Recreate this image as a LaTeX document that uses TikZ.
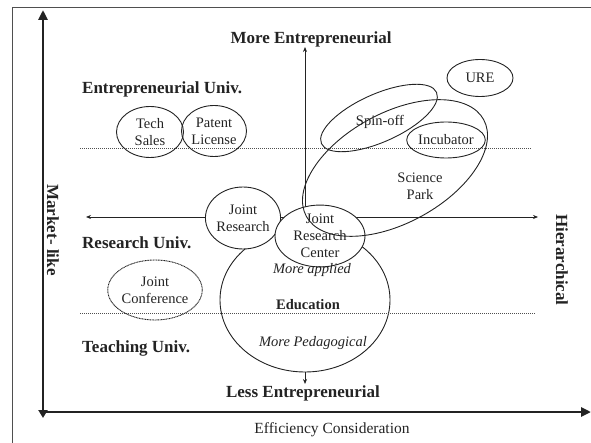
\documentclass[tikz,border=0pt]{standalone}
\usepackage{fontspec}
\setmainfont{Liberation Serif}
\usetikzlibrary{shapes.geometric,arrows.meta}
\definecolor{ink}{RGB}{35,35,35}
\begin{document}
\begin{tikzpicture}[x=1pt,y=-1pt,
  bub/.style={draw=ink, ellipse, inner sep=0pt, align=center, text=ink,
     font=\fontsize{14.5}{17}\selectfont, line width=0.9pt},
  ring/.style={draw=ink, ellipse, inner sep=0pt, line width=0.9pt},
  lbl/.style={text=ink, align=center, inner sep=0pt, font=\fontsize{14.5}{17}\selectfont},
  head/.style={text=ink, inner sep=0pt, font=\bfseries\fontsize{17}{19}\selectfont},
  dotline/.style={draw=ink!80, line width=0.8pt, dash pattern=on 1pt off 1pt},
  thinaxis/.style={draw=ink, line width=0.7pt, {Stealth[length=5pt,width=4pt]}-{Stealth[length=5pt,width=4pt]}},
  thickaxis/.style={draw=ink, line width=2.8pt}
]
\useasboundingbox (0,0) rectangle (591,443);
% frame
\coordinate (f1) at (12,443);
\coordinate (f2) at (12,8);
\coordinate (f3) at (591,8);
\draw[ink!80, line width=1pt] (f1) -- (f2) -- (f3);
% thick axes
\coordinate (o) at (43,412);
\coordinate (vt) at (43,10);
\coordinate (vb) at (43,418);
\coordinate (hr) at (591,412);
\draw[thickaxis, {Triangle[length=8pt,width=9pt]}-{Triangle[length=10pt,width=9pt]}] (vb) -- (vt);
\draw[thickaxis, -{Triangle[length=10pt,width=9pt]}] (o) -- (hr);
% thin axes
\coordinate (ht) at (305,47);
\coordinate (hb) at (305,384);
\coordinate (hl) at (86,217);
\coordinate (hrr) at (538,217);
\draw[thinaxis] (hb) -- (ht);
\draw[thinaxis] (hl) -- (hrr);
% dotted lines
\coordinate (d1l) at (80,148);
\coordinate (d1r) at (532,148);
\draw[dotline] (d1l) -- (d1r);
% education circle
\node[ring, fill=white, minimum width=170pt, minimum height=144pt] (edu) at (305,300) {};
\coordinate (d2l) at (80,313);
\coordinate (d2r) at (536,313);
\draw[dotline] (d2l) -- (d2r);
% joint research, joint research center
\node[bub, fill=white, minimum width=74pt, minimum height=62pt] (jr) at (243,218) {Joint\\Research};
\node[bub, fill=white, minimum width=90pt, minimum height=52pt] (jrc) at (320,236) {Joint\\Research\\Center};
% science park, spin-off, incubator, URE
\node[ring, minimum width=202pt, minimum height=110pt, rotate=28.6] (sp) at (395,168) {};
\node[lbl] (spt) at (420,186) {Science\\Park};
\node[ring, minimum width=126pt, minimum height=48pt, rotate=24] (so) at (379,118) {};
\node[lbl] (sot) at (380,122) {Spin-off};
\node[bub, minimum width=76pt, minimum height=36pt] (inc) at (446,140) {Incubator};
\node[bub, minimum width=66pt, minimum height=37pt] (ure) at (480,78) {URE};
% left ellipses
\node[bub, minimum width=67pt, minimum height=51pt] (ts) at (150,132) {Tech\\Sales};
\node[bub, minimum width=65pt, minimum height=51pt] (pl) at (214,131) {Patent\\License};
\node[bub, dash pattern=on 1pt off 0.6pt, minimum width=74pt, minimum height=60pt] (jc) at (155,290) {Joint\\Conference};
% education texts
\node[lbl, font=\itshape\fontsize{14.5}{17}\selectfont] (ma) at (312,270) {More applied};
\node[lbl, font=\bfseries\fontsize{14.5}{17}\selectfont] (ed) at (308,305) {Education};
\node[lbl, font=\itshape\fontsize{14.5}{17}\selectfont] (mp) at (313,343) {More Pedagogical};
% headings
\node[head] (me) at (311,39) {More Entrepreneurial};
\node[head] (le) at (303,393) {Less Entrepreneurial};
\node[head, anchor=west] (eu) at (82,89) {Entrepreneurial Univ.};
\node[head, anchor=west] (ru) at (82,243) {Research Univ.};
\node[head, anchor=west] (tu) at (82,348) {Teaching Univ.};
\node[head, rotate=-90] (ml) at (53,230) {Market- like};
\node[head, rotate=-90] (hi) at (562,260) {Hierarchical};
\node[lbl, font=\fontsize{15.5}{17}\selectfont] (ec) at (332,430) {Efficiency Consideration};
\end{tikzpicture}
\end{document}
